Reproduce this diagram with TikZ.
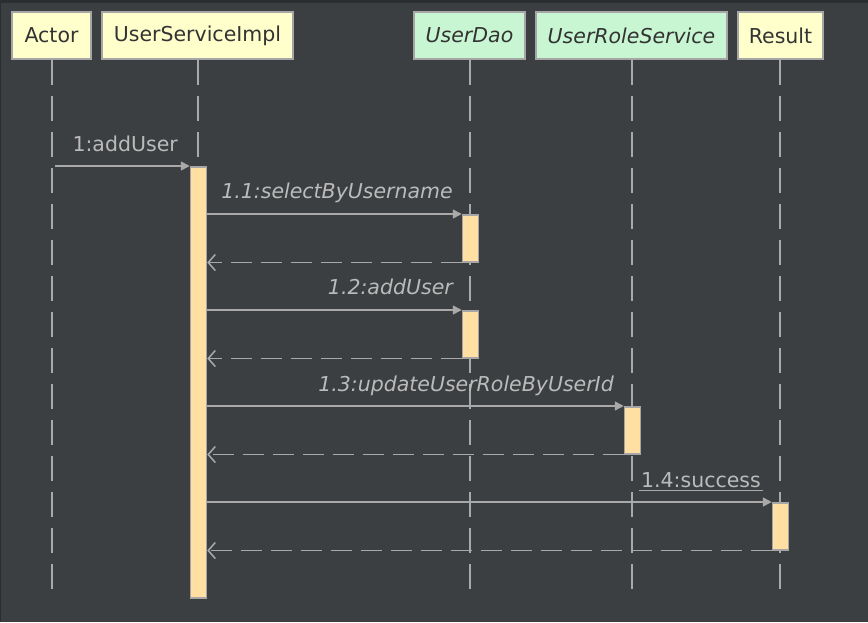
\documentclass[tikz,border=0pt]{standalone}
\usepackage{fontspec}
\setmainfont{DejaVu Sans}
\usetikzlibrary{arrows.meta}
\definecolor{bg}{HTML}{3C3F41}
\definecolor{bgdark}{HTML}{2B2D30}
\definecolor{hdyellow}{HTML}{FFFFCC}
\definecolor{hdgreen}{HTML}{C8F6D2}
\definecolor{hdborder}{HTML}{A6A6A6}
\definecolor{linecol}{HTML}{A9A9A9}
\definecolor{txtcol}{HTML}{BBBBBB}
\definecolor{actfill}{HTML}{FFE0A2}
\definecolor{hdtext}{HTML}{333333}
\begin{document}
\begin{tikzpicture}[x=1pt,y=-1pt,
  header/.style={draw=hdborder,line width=1.6pt,inner sep=0pt,text=hdtext,
     font=\fontsize{20.5}{24}\selectfont},
  lifeline/.style={draw=linecol,line width=1.5pt,dash pattern=on 25pt off 11pt},
  actbox/.style={draw=hdborder,fill=actfill,line width=1.5pt},
  msg/.style={draw=linecol,line width=1.5pt,-{Triangle[length=9pt,width=9pt]}},
  ret/.style={draw=linecol,line width=1.5pt,dash pattern=on 21pt off 9pt,
     -{Straight Barb[length=7pt,width=16pt,line width=1.5pt]}},
  lbl/.style={text=txtcol,anchor=base east,inner sep=0pt,
     font=\fontsize{20.5}{24}\selectfont},
  ilbl/.style={lbl,font=\fontsize{20.5}{24}\selectfont\itshape}
]
\useasboundingbox (0,0) rectangle (868,622);
\fill[bg] (0,0) rectangle (868,622);
\fill[bgdark] (0,0) rectangle (868,2.5);
\fill[bgdark] (0,0) rectangle (1,622);

% headers
\node[header,fill=hdyellow,minimum width=79pt,minimum height=47pt] (actor) at (51.5,35.5) {Actor};
\node[header,fill=hdyellow,minimum width=191pt,minimum height=47pt] (usi) at (197.5,35.5) {UserServiceImpl};
\node[header,fill=hdgreen,minimum width=111pt,minimum height=47pt] (dao) at (469.5,35.5) {\itshape UserDao};
\node[header,fill=hdgreen,minimum width=191pt,minimum height=47pt] (urs) at (631.5,35.5) {\itshape UserRoleService};
\node[header,fill=hdyellow,minimum width=85pt,minimum height=47pt] (res) at (780.5,35.5) {Result};

% lifeline end points
\coordinate (actorE) at (52,589);
\coordinate (usiE) at (198,589);
\coordinate (daoE) at (470,589);
\coordinate (ursE) at (632,589);
\coordinate (resE) at (780,589);
\coordinate (actorS) at (52,60);
\coordinate (usiS) at (198,60);
\coordinate (daoS) at (470,60);
\coordinate (ursS) at (632,60);
\coordinate (resS) at (780,60);
\draw[lifeline] (actorS) -- (actorE);
\draw[lifeline] (usiS) -- (usiE);
\draw[lifeline] (daoS) -- (daoE);
\draw[lifeline] (ursS) -- (ursE);
\draw[lifeline] (resS) -- (resE);

% activations
\node[actbox,minimum width=16pt,minimum height=431pt,inner sep=0pt,anchor=north] (a0) at (198.5,166) {};
\node[actbox,minimum width=16pt,minimum height=47pt,inner sep=0pt,anchor=north] (a1) at (470.5,214) {};
\node[actbox,minimum width=16pt,minimum height=47pt,inner sep=0pt,anchor=north] (a2) at (470.5,310) {};
\node[actbox,minimum width=16pt,minimum height=47pt,inner sep=0pt,anchor=north] (a3) at (632.5,406) {};
\node[actbox,minimum width=16pt,minimum height=47pt,inner sep=0pt,anchor=north] (a4) at (780.5,502) {};

% message 1
\coordinate (m1s) at (55,166);
\draw[msg] (m1s) -- (a0.north west);
\node[lbl] (l1) at (178,151) {1:addUser};

% 1.1
\draw[msg] (a0.east |- a1.north) -- (a1.north west);
\draw[ret] (a1.south west) -- (a0.east |- a1.south);
\node[ilbl] (l11) at (453,198) {1.1:selectByUsername};

% 1.2
\draw[msg] (a0.east |- a2.north) -- (a2.north west);
\draw[ret] (a2.south west) -- (a0.east |- a2.south);
\node[ilbl] (l12) at (453,294) {1.2:addUser};

% 1.3
\draw[msg] (a0.east |- a3.north) -- (a3.north west);
\draw[ret] (a3.south west) -- (a0.east |- a3.south);
\node[ilbl] (l13) at (614,391) {1.3:updateUserRoleByUserId};

% 1.4
\draw[msg] (a0.east |- a4.north) -- (a4.north west);
\draw[ret] (a4.south west) -- (a0.east |- a4.south);
\node[lbl] (l14) at (761,487) {1.4:success};
\draw[linecol,line width=1.5pt] ([xshift=-2pt,yshift=-3.5pt]l14.base west) -- ([xshift=2pt,yshift=-3.5pt]l14.base east);
\end{tikzpicture}
\end{document}
